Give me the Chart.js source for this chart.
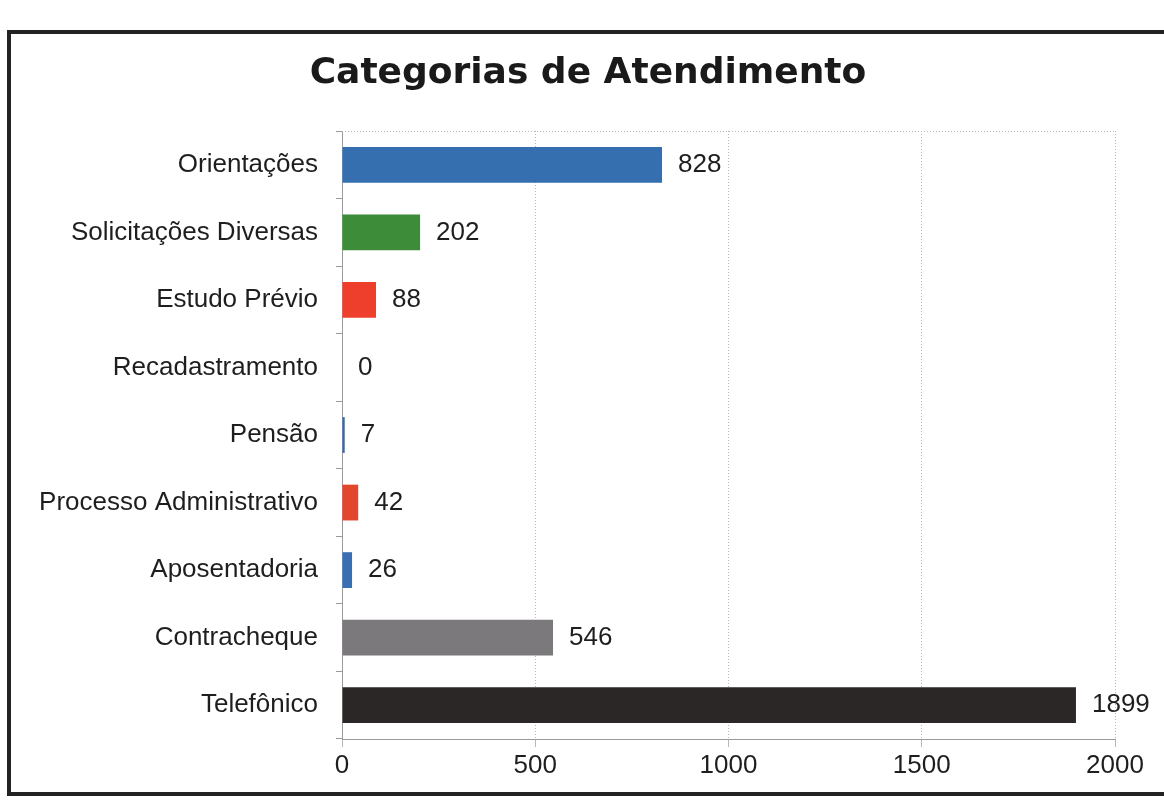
<!DOCTYPE html>
<html>
<head>
<meta charset="utf-8">
<script src="https://cdn.jsdelivr.net/npm/chart.js@4"></script>
<style>
  html, body { margin: 0; padding: 0; background: #ffffff; overflow: hidden; }
  #wrap { position: relative; width: 1164px; height: 803px; }
  #frame { position: absolute; left: 7px; top: 30px; width: 1180px; height: 766px; border: 4px solid #232323; box-sizing: border-box; }
  canvas { position: absolute; left: 0; top: 0; }
</style>
</head>
<body>
<div id="wrap">
  <div id="frame"></div>
  <canvas id="c" width="1164" height="803"></canvas>
</div>
<script>
const categories = ['Orientações', 'Solicitações Diversas', 'Estudo Prévio', 'Recadastramento', 'Pensão', 'Processo Administrativo', 'Aposentadoria', 'Contracheque', 'Telefônico'];
const values = [828, 202, 88, 0, 7, 42, 26, 546, 1899];
const barColors = ['#356fb0', '#3c8c3a', '#ee3f2c', '#3a6fb0', '#3668b0', '#e2472e', '#3a6eb2', '#7b797b', '#2b2727'];
const xTickValues = [0, 500, 1000, 1500, 2000];
const chartTitle = 'Categorias de Atendimento';

const valueLabels = {
  id: 'valueLabels',
  afterDatasetsDraw(chart) {
    const ctx = chart.ctx;
    const meta = chart.getDatasetMeta(0);
    ctx.save();
    ctx.font = '26px "Liberation Sans", Arial, sans-serif';
    ctx.fillStyle = '#1e1e1e';
    ctx.textAlign = 'left';
    ctx.textBaseline = 'middle';
    meta.data.forEach((bar, i) => {
      ctx.fillText(String(values[i]), bar.x + 16, bar.y);
    });
    ctx.restore();
  }
};

const titleDraw = {
  id: 'titleDraw',
  afterDraw(chart) {
    const ctx = chart.ctx;
    ctx.save();
    ctx.font = 'bold 36px "DejaVu Sans", sans-serif';
    ctx.fillStyle = '#1a1a1a';
    ctx.textAlign = 'center';
    ctx.textBaseline = 'middle';
    ctx.fillText(chartTitle, 588, 74);
    ctx.restore();
  }
};

const plotFrame = {
  id: 'plotFrame',
  beforeDatasetsDraw(chart) {
    const a = chart.chartArea;
    const ctx = chart.ctx;
    ctx.save();
    ctx.strokeStyle = '#b8b8b8';
    ctx.lineWidth = 1;
    ctx.setLineDash([1, 2]);
    ctx.beginPath();
    ctx.moveTo(a.left, a.top + 0.5);
    ctx.lineTo(a.right, a.top + 0.5);
    ctx.stroke();
    ctx.restore();
  }
};

new Chart(document.getElementById('c'), {
  type: 'bar',
  data: {
    labels: categories,
    datasets: [{
      data: values,
      backgroundColor: barColors,
      borderWidth: 0,
      categoryPercentage: 1,
      barPercentage: 0.53
    }]
  },
  plugins: [valueLabels, plotFrame, titleDraw],
  options: {
    indexAxis: 'y',
    responsive: false,
    animation: false,
    layout: { padding: { top: 131, left: 10, right: 49, bottom: 14 } },
    plugins: {
      legend: { display: false },
      tooltip: { enabled: false },
      title: { display: false }
    },
    scales: {
      x: {
        type: 'linear',
        min: 0,
        max: 2000,
        afterBuildTicks(scale) { scale.ticks = xTickValues.map(v => ({ value: v })); },
        afterFit(scale) { scale.height = 50; },
        ticks: {
          color: '#1e1e1e',
          padding: 3,
          callback: (v) => String(v),
          font: { family: '"Liberation Sans", Arial, sans-serif', size: 26 }
        },
        grid: { color: '#b8b8b8', lineWidth: 1, tickLength: 8 },
        border: { color: '#9a9a9a', dash: [1, 2] }
      },
      y: {
        type: 'category',
        afterFit(scale) { scale.width = 332; },
        ticks: {
          color: '#1e1e1e',
          padding: 18,
          font: { family: '"Liberation Sans", Arial, sans-serif', size: 26 }
        },
        grid: { drawOnChartArea: false, color: '#9a9a9a', tickLength: 6, offset: true },
        border: { color: '#9a9a9a' }
      }
    }
  }
});
</script>
</body>
</html>
